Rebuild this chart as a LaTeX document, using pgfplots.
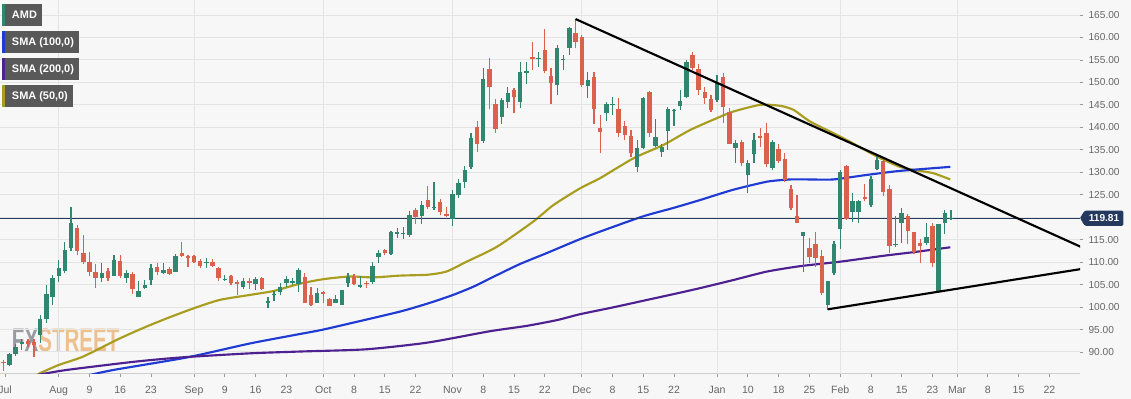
\documentclass[border=0pt]{standalone}
\usepackage{fontspec}
\setmainfont{Liberation Sans}
\usepackage{graphicx}
\usepackage{pgfplots}
\usepackage{pgfplotstable}
\pgfplotsset{compat=1.18}

\definecolor{bgc}{HTML}{F7F7F7}
\definecolor{gridc}{HTML}{E4E4E4}
\definecolor{axisc}{HTML}{CFCFCF}
\definecolor{tickc}{HTML}{9A9A9A}
\definecolor{labelc}{HTML}{666666}
\definecolor{upc}{HTML}{30866E}
\definecolor{downc}{HTML}{D9614E}
\definecolor{smafifty}{HTML}{A99D1F}
\definecolor{smahundred}{HTML}{1F3BD4}
\definecolor{smatwohundred}{HTML}{4E2191}
\definecolor{pricec}{HTML}{24395E}
\definecolor{legc}{HTML}{595959}
\definecolor{wmgray}{HTML}{9A9AA0}
\definecolor{wmorange}{HTML}{EDC08F}

\pgfplotstableread{
d o h l c
-8 87.1 89.8 86.8 89.5
-7 89.5 91.8 89.2 91.2
-6 91.8 92.9 90.4 92.3
-3 93.8 98.3 92.0 97.3
-2 97.3 104.8 96.5 102.8
-1 102.3 107.1 100.5 106.4
0 106.8 110.5 105.5 108.6
1 108.0 114.5 107.5 112.7
2 113.1 122.3 112.5 118.6
7 106.5 109.7 105.6 107.6
9 107.0 111.5 106.8 110.5
11 106.4 108.2 105.4 107.5
13 102.3 105.8 102.3 103.6
14 104.3 106.0 104.0 104.8
15 106.0 109.5 105.0 108.8
17 107.5 109.7 107.4 108.3
19 107.9 111.8 107.7 111.4
24 109.7 111.0 108.8 110.0
27 106.0 107.2 105.7 106.3
30 104.5 106.5 104.1 105.8
32 105.1 106.6 103.7 106.2
34 101.0 102.3 99.7 101.4
35 102.6 103.5 101.4 102.9
36 103.4 105.3 102.6 104.4
37 105.4 106.8 104.5 106.2
38 105.3 106.5 104.8 105.8
39 105.1 108.6 103.4 108.2
42 101.0 104.3 101.0 103.1
45 100.8 102.6 100.8 101.7
46 100.5 103.8 100.5 103.8
47 105.3 107.6 104.5 106.6
49 104.5 107.0 104.3 104.8
51 105.6 110.0 105.2 109.1
52 111.2 112.7 109.8 112.1
54 111.7 117.0 111.5 116.7
55 116.3 117.5 115.3 116.6
56 116.2 117.8 115.2 116.5
57 116.0 121.3 115.5 120.5
59 120.3 123.5 118.5 122.7
61 122.0 127.9 121.5 122.3
64 119.7 126.0 118.0 125.2
65 124.9 128.5 124.3 127.5
66 127.9 131.5 126.5 130.5
67 131.2 138.8 130.8 137.6
69 137.0 153.3 136.6 150.7
72 142.2 146.6 140.7 146.1
73 145.7 149.0 144.2 147.7
75 145.7 154.6 144.2 152.4
76 152.2 154.6 149.6 152.6
78 155.1 156.8 153.5 155.4
81 149.4 158.4 147.2 157.6
82 154.9 156.1 152.8 155.2
83 157.6 162.4 156.1 162.0
86 149.1 152.4 146.5 150.5
89 143.3 145.7 141.3 145.1
90 145.0 146.8 142.7 145.3
94 131.2 137.2 130.1 135.5
95 135.3 146.8 135.2 146.5
97 135.9 141.9 135.7 137.9
98 134.6 136.4 133.5 135.7
99 139.2 144.6 135.0 144.1
100 143.6 144.1 140.2 143.9
101 144.8 148.3 143.9 145.9
102 146.8 155.0 146.6 154.6
107 146.1 151.6 145.7 149.8
110 135.5 137.2 132.0 136.6
112 129.4 132.7 125.3 132.0
113 134.1 138.8 132.0 137.2
116 130.9 137.2 130.5 136.8
121 115.8 116.8 107.9 116.8
125 100.5 105.7 99.35 105.7
126 107.5 114.6 107.1 114.0
127 117.3 130.5 112.9 130.1
129 121.2 125.3 119.0 123.5
130 121.2 123.8 118.8 123.7
132 122.7 129.2 122.3 128.6
133 130.7 133.8 130.5 132.7
136 113.7 120.3 113.4 114.0
137 118.8 122.0 114.3 121.0
141 114.2 118.6 113.8 115.7
143 103.4 118.5 103.05 118.5
144 118.6 121.5 116.3 121.0
145 119.5 121.5 119.4 119.81
}\updata

\pgfplotstableread{
d o h l c
-9 87.8 88.3 85.8 87.5
-5 92.5 93.0 91.0 91.8
-4 92.3 92.8 88.8 91.5
3 117.5 118.3 111.5 112.5
4 112.0 116.0 109.5 110.1
5 110.0 112.3 107.0 107.9
6 107.9 109.6 104.3 106.4
8 108.0 108.7 105.9 106.5
10 110.3 111.5 106.5 107.0
12 107.4 107.9 102.9 104.0
16 109.0 109.8 107.2 107.7
18 108.5 109.0 107.2 107.4
20 112.0 114.4 111.2 111.4
21 111.3 111.5 109.0 111.0
22 111.4 111.6 109.8 110.1
23 110.3 110.7 108.8 109.2
25 110.1 110.6 108.9 109.2
26 108.8 109.0 105.8 106.4
28 106.9 107.2 105.0 105.3
29 105.5 106.0 102.7 105.2
31 105.9 106.5 104.1 105.4
33 106.4 106.6 103.8 104.0
40 106.6 107.5 101.0 101.0
41 102.7 104.5 100.2 100.5
43 103.3 103.5 100.8 102.8
44 101.7 102.0 100.2 100.3
48 106.6 107.4 104.9 105.1
50 105.4 105.8 104.3 105.1
53 112.7 113.0 111.5 112.1
58 121.6 122.0 118.5 120.1
60 123.8 127.0 121.8 122.3
62 123.3 124.0 120.5 121.1
63 120.6 122.2 120.0 120.3
68 140.0 141.5 134.5 136.4
70 153.0 155.5 144.0 148.9
71 145.2 146.3 138.7 139.6
74 148.2 148.8 143.3 146.7
77 155.7 159.1 152.8 155.1
79 157.1 161.8 152.0 152.6
80 151.5 153.1 145.3 149.8
84 161.1 164.1 157.6 159.1
85 160.2 160.6 149.0 149.4
87 151.3 152.4 140.7 144.0
88 139.8 142.7 134.2 139.0
91 144.0 146.5 137.9 138.7
92 140.3 141.3 137.2 138.4
93 138.1 139.4 133.5 134.2
96 147.8 148.1 137.9 138.7
103 156.1 156.7 152.8 153.1
104 152.9 154.0 147.2 148.3
105 147.9 149.0 145.3 146.6
106 146.3 147.2 143.5 143.9
108 151.3 152.0 140.9 144.6
109 143.5 144.2 136.4 136.4
111 136.8 137.2 131.3 132.0
114 138.1 139.8 135.7 137.6
115 138.8 140.9 131.2 131.8
117 135.1 136.4 132.0 132.4
118 132.9 134.2 127.9 128.3
119 126.2 127.2 121.6 122.0
120 120.3 125.0 118.6 118.8
122 113.1 115.3 109.7 111.1
123 114.0 116.8 109.0 110.85
124 111.4 112.7 102.7 103.1
128 131.4 131.6 119.4 119.7
131 124.4 127.4 123.5 124.0
134 132.4 133.1 124.7 125.7
135 126.2 127.2 112.0 113.6
138 120.3 120.7 114.1 117.0
139 116.6 116.6 111.9 112.3
140 114.3 115.2 109.9 113.6
142 118.0 118.6 109.0 109.7
}\downdata

\begin{document}
\begin{tikzpicture}
\useasboundingbox (0,0) rectangle (848.25pt,299.25pt);
\fill[bgc] (0,0) rectangle (848.25pt,299.25pt);
\node[anchor=base west, inner sep=0pt] at (8.8pt,35.5pt)
  {\scalebox{0.63}[1]{\fontsize{24.5}{24.5}\selectfont\bfseries\textcolor{wmgray}{FX}\textcolor{wmorange}{STREET}}};
\begin{axis}[
  at={(0pt,18.75pt)}, anchor=south west,
  width=810pt, height=280.5pt, scale only axis,
  xmin=-9.540, xmax=165.98, ymin=85.10, ymax=168.34,
  axis x line*=bottom, axis y line*=right,
  x axis line style={draw=axisc, line width=0.75pt, -},
  y axis line style={draw=none},
  tick align=outside,
  major tick length=2.5pt,
  xtick style={draw=tickc, line width=0.6pt},
  ytick style={draw=tickc, line width=0.6pt},
  xtick={-8.73,0,5,10,15,22,27,32,37,43,48,53,58,64,69,74,79,85,90,95,100,107,112,117,122,127,132,137,142,146,151,156,161},
  xticklabels={Jul,Aug,9,16,23,Sep,9,16,23,Oct,8,15,22,Nov,8,15,22,Dec,8,15,22,Jan,10,18,25,Feb,8,15,23,Mar,8,15,22},
  ytick={90,95,100,105,110,115,120,125,130,135,140,145,150,155,160,165},
  yticklabels={90.00,95.00,100.00,105.00,110.00,115.00,,125.00,130.00,135.00,140.00,145.00,150.00,155.00,160.00,165.00},
  ymajorgrids,
  grid style={draw=gridc, line width=0.75pt},
  extra x ticks={0,22,43,64,85,107,127,146},
  extra x tick labels={,,,,,,,},
  extra x tick style={grid=major},
  xticklabel style={font=\fontsize{7.9}{9}\selectfont, text=labelc, anchor=base, yshift=-12.1pt},
  yticklabel style={font=\fontsize{7.6}{9}\selectfont, text=labelc, anchor=west, inner sep=0pt, xshift=3.75pt},
]
% SMA lines
\addplot[smafifty, line width=1.6pt, smooth, tension=0.4] coordinates {
(-4,84.5) (-3,85.3) (0,87.1) (4,89) (9.9,93) (14,95.5) (17.6,97.5) (21.9,99.7) (26.2,101.6) (31.1,102.7) (35,103.6) (39.2,105.2) (43,106.2) (47.3,106.8) (51.1,106.6) (55.5,107) (60,107.2) (63,107.9) (66.3,110.1) (71.2,113.4) (77.1,119) (80.4,122.7) (84.7,126.4) (88,128.7) (93.4,133.1) (98.3,136.1) (102.6,139.4) (106.9,142) (109.6,143.5) (114,145) (117.2,144.8) (119.4,143.9) (122.1,141.3) (125.9,138.7) (128.6,136.8) (133,133.5) (136.7,131.2) (139.5,130.4) (142.1,129.8) (144.9,128.4)};
\addplot[smahundred, line width=1.6pt, smooth, tension=0.4] coordinates {
(4.5,84.7) (8.9,86) (20.9,88.8) (31.1,91.9) (39.2,94.0) (42.7,94.9) (48.4,96.7) (55.5,99) (60,100.8) (64.1,102.7) (67.5,104.6) (71.2,107.1) (75,109.6) (79.3,112) (84.7,115.1) (89,117.3) (95,120.2) (100,122.1) (104.2,123.8) (109.6,126.1) (115.1,127.9) (118.9,128.4) (122,128.4) (125.9,128.4) (131.3,129.4) (136.7,130.3) (144.9,131.2)};
\addplot[smatwohundred, line width=1.6pt, smooth, tension=0.4] coordinates {
(-4,84.7) (-3,85.0) (1.3,86) (12.1,87.8) (20,88.8) (31.1,89.7) (39.2,90.1) (50,90.6) (60,92.1) (70,94.6) (76,95.8) (81,97.1) (84.7,98.4) (90,99.9) (95,101.4) (100,102.9) (104.2,104.2) (109.6,106) (115.1,107.9) (120.5,109.1) (127,110.1) (134,111.4) (139.4,112.3) (144.9,113.3)};
% price line
\addplot[pricec, line width=0.8pt] coordinates {(-20,119.81) (180,119.81)};
% wicks
\addplot[draw=none, mark=none, forget plot, error bars/.cd, y dir=plus, y explicit, error mark=none,
  error bar style={draw=upc, line width=0.9pt}]
  table[x=d, y=l, y error expr=\thisrow{h}-\thisrow{l}] {\updata};
\addplot[draw=none, mark=none, forget plot, error bars/.cd, y dir=plus, y explicit, error mark=none,
  error bar style={draw=downc, line width=0.9pt}]
  table[x=d, y=l, y error expr=\thisrow{h}-\thisrow{l}] {\downdata};
% bodies
\addplot[draw=none, mark=none, forget plot, error bars/.cd, y dir=plus, y explicit, error mark=none,
  error bar style={draw=upc, line width=3.3pt}]
  table[x=d, y=o, y error expr=\thisrow{c}-\thisrow{o}] {\updata};
\addplot[draw=none, mark=none, forget plot, error bars/.cd, y dir=plus, y explicit, error mark=none,
  error bar style={draw=downc, line width=3.3pt}]
  table[x=d, y=c, y error expr=\thisrow{o}-\thisrow{c}] {\downdata};
% trend lines
\addplot[black, line width=1.6pt] coordinates {(84,164.1) (170,111.0)};
\addplot[black, line width=1.6pt] coordinates {(125,99.5) (170,109.3)};
\end{axis}
% price tag
\fill[pricec, rounded corners=1pt] (810pt,135.75pt) -- (813.5pt,141.3pt) -- (842.5pt,141.3pt) -- (842.5pt,129.9pt) -- (813.5pt,129.9pt) -- cycle;
\node[text=white, inner sep=0pt, font=\fontsize{7.6}{9}\selectfont\bfseries] at (828pt,135.75pt) {119.81};
% legend boxes
\fill[legc] (1.3pt,280pt) rectangle (31.3pt,296.25pt);
\fill[upc] (1.3pt,280pt) rectangle (3.5pt,296.25pt);
\node[anchor=base west, inner sep=0pt, text=white, font=\fontsize{8.2}{9}\selectfont\bfseries] at (8.8pt,285.1pt) {AMD};
\fill[legc] (1.3pt,259.7pt) rectangle (59.25pt,276pt);
\fill[smahundred] (1.3pt,259.7pt) rectangle (3.5pt,276pt);
\node[anchor=base west, inner sep=0pt, text=white, font=\fontsize{8.2}{9}\selectfont\bfseries] at (8.8pt,264.9pt) {SMA (100,0)};
\fill[legc] (1.3pt,239.25pt) rectangle (59.5pt,255.75pt);
\fill[smatwohundred] (1.3pt,239.25pt) rectangle (3.5pt,255.75pt);
\node[anchor=base west, inner sep=0pt, text=white, font=\fontsize{8.2}{9}\selectfont\bfseries] at (8.8pt,244.5pt) {SMA (200,0)};
\fill[legc] (1.3pt,219.2pt) rectangle (54.5pt,235.5pt);
\fill[smafifty] (1.3pt,219.2pt) rectangle (3.5pt,235.5pt);
\node[anchor=base west, inner sep=0pt, text=white, font=\fontsize{8.2}{9}\selectfont\bfseries] at (8.8pt,224.35pt) {SMA (50,0)};
\end{tikzpicture}
\end{document}
